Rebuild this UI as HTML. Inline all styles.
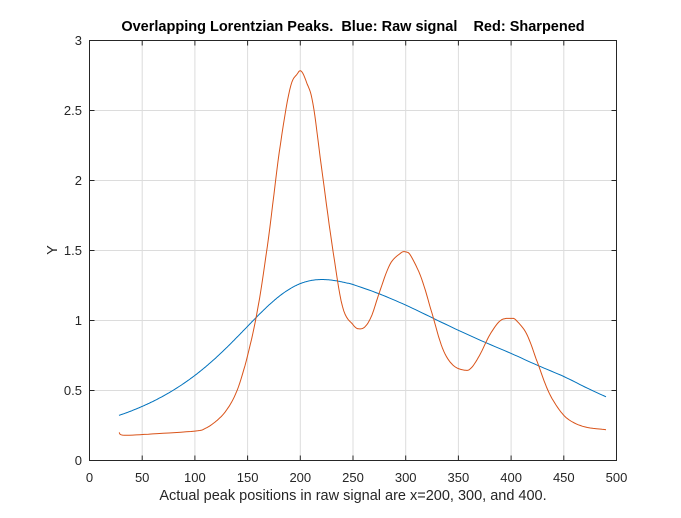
<!DOCTYPE html><html><head><style>body{margin:0;background:#fff}svg{display:block;font-family:"Liberation Sans",sans-serif}</style></head><body>
<svg id="s" width="681" height="518" xmlns="http://www.w3.org/2000/svg">
<rect width="681" height="518" fill="#fff"/>
<g id="grid" stroke="#dcdcdc" stroke-width="1"></g>
<rect x="89.5" y="40.5" width="527" height="420" fill="none" stroke="#262626"/>
<g id="ticks" font-size="13" fill="#262626"></g>
<path id="blue" fill="none" stroke="#0072bd" stroke-width="1"/>
<path id="red" fill="none" stroke="#d95319" stroke-width="1"/>
<text x="353" y="31" font-size="14.5" font-weight="bold" text-anchor="middle" fill="#000" style="white-space:pre" xml:space="preserve">Overlapping Lorentzian Peaks.  Blue: Raw signal    Red: Sharpened</text>
<text x="353" y="500" font-size="14.5" text-anchor="middle" fill="#262626">Actual peak positions in raw signal are x=200, 300, and 400.</text>
<text transform="translate(57,250) rotate(-90)" font-size="14.5" text-anchor="middle" fill="#262626">Y</text>
</svg>
<script>
var X=function(x){return 89.5+x*1.054},Y=function(y){return 460.5-y*140};
var g=document.getElementById('grid'),t=document.getElementById('ticks'),h='',tk='';
for(var i=0;i<=500;i+=50){var x=X(i);h+='<line x1="'+x+'" y1="40.5" x2="'+x+'" y2="460.5"/>';tk+='<text x="'+x+'" y="482" text-anchor="middle">'+i+'</text><line x1="'+x+'" y1="460.5" x2="'+x+'" y2="455.5" stroke="#262626"/><line x1="'+x+'" y1="40.5" x2="'+x+'" y2="45.5" stroke="#262626"/>';}
for(var j=0;j<=6;j++){var v=j*0.5,y=Y(v);h+='<line x1="89.5" y1="'+y+'" x2="616.5" y2="'+y+'"/>';tk+='<text x="82" y="'+(y+4.5)+'" text-anchor="end">'+v+'</text><line x1="89.5" y1="'+y+'" x2="94.5" y2="'+y+'" stroke="#262626"/><line x1="616.5" y1="'+y+'" x2="611.5" y2="'+y+'" stroke="#262626"/>';}
g.innerHTML=h;t.innerHTML=tk;
function cr(p){var d='M'+X(p[0][0]).toFixed(1)+' '+Y(p[0][1]).toFixed(1);
for(var i=0;i<p.length-1;i++){var a=p[Math.max(0,i-1)],b=p[i],c=p[i+1],e=p[Math.min(p.length-1,i+2)];
for(var k=1;k<=8;k++){var s=k/8,s2=s*s,s3=s2*s;
var f=function(j){return 0.5*((2*b[j])+(-a[j]+c[j])*s+(2*a[j]-5*b[j]+4*c[j]-e[j])*s2+(-a[j]+3*b[j]-3*c[j]+e[j])*s3)};
d+='L'+X(f(0)).toFixed(1)+' '+Y(f(1)).toFixed(1);}}return d;}
var bp=[];for(var x=28;x<=250;x+=6){var L=function(c,a){var u=(x-c)/100;return a/(1+u*u)};bp.push([x,0.95*(L(200,1)+L(300,0.5)+L(400,0.4))]);}
bp=bp.concat([[275,1.19],[300,1.11],[325,1.02],[350,0.93],[375,0.845],[400,0.765],[425,0.68],[450,0.6],[470,0.525],[490,0.455]]);
document.getElementById('blue').setAttribute('d',cr(bp));
var r=[[28,0.2],[33,0.18],[60,0.19],[100,0.21],[110,0.23],[120,0.28],[130,0.36],[140,0.5],[150,0.75],[160,1.1],[170,1.6],[180,2.2],[190,2.65],[197,2.76],[201,2.78],[206,2.7],[212,2.55],[220,2.1],[230,1.55],[240,1.1],[250,0.97],[256,0.94],[262,0.96],[268,1.04],[275,1.2],[285,1.4],[295,1.48],[300,1.49],[305,1.46],[315,1.3],[325,1.05],[335,0.8],[345,0.68],[356,0.645],[362,0.66],[370,0.75],[380,0.9],[390,1.0],[400,1.015],[405,1.0],[415,0.9],[425,0.7],[435,0.5],[445,0.37],[455,0.29],[470,0.24],[490,0.22]];
document.getElementById('red').setAttribute('d',cr(r));
</script>
</body></html>
